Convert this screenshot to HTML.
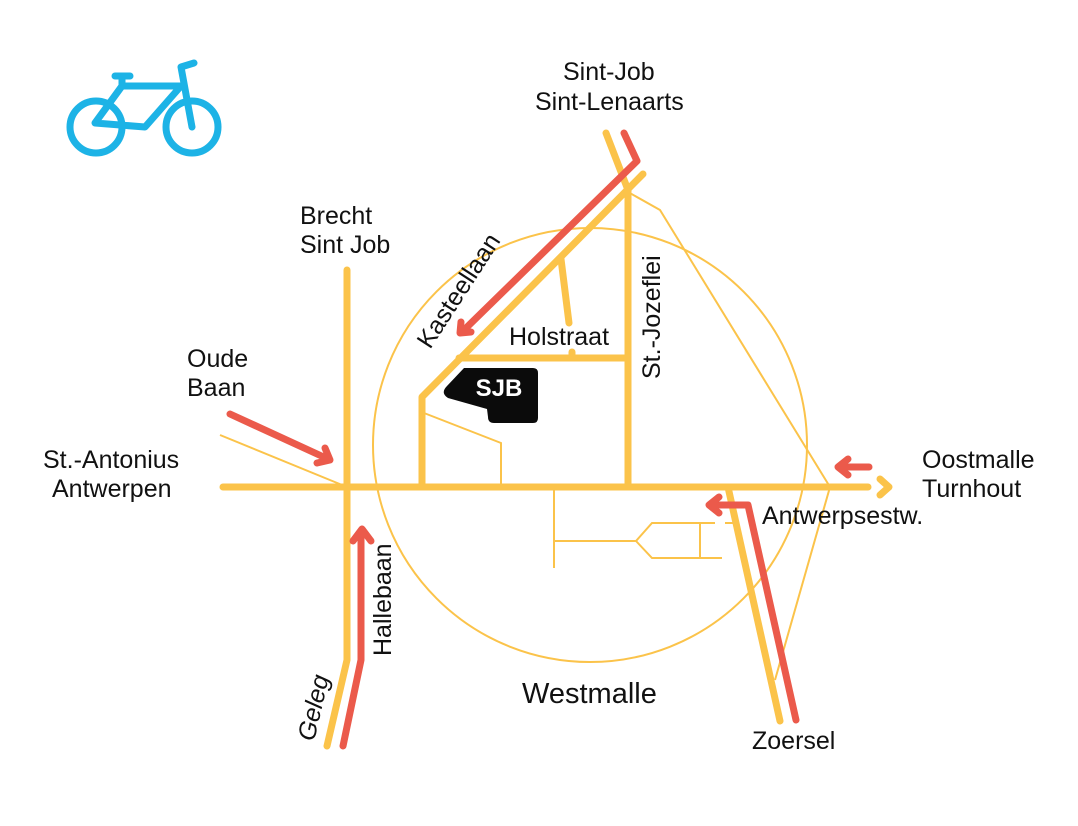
<!DOCTYPE html>
<html><head><meta charset="utf-8"><style>
html,body{margin:0;padding:0;background:#fff;}
svg{display:block;}
text{font-family:"Liberation Sans",sans-serif;fill:#111;}
</style></head><body>
<svg width="1078" height="826" viewBox="0 0 1078 826">
<!-- bike -->
<g stroke="#1DB3E6" stroke-width="7" fill="none" stroke-linecap="round" stroke-linejoin="round">
<circle cx="96" cy="127" r="26"/>
<circle cx="192" cy="127" r="26"/>
<path d="M95 123 L122 86 L181 86 L145 127 Z"/>
<path d="M122 86 L122 77 M115 76 L130 76"/>
<path d="M192 127 L181 67 L194 63"/>
</g>
<!-- thin lines -->
<g stroke="#FBC34A" stroke-width="2" fill="none">
<circle cx="590" cy="445" r="217"/>
<path d="M220 435 L347 487"/>
<path d="M628 192 L660 210 L830 487 L775 680"/>
<path d="M424 413 L501 443 L501 487"/>
<path d="M554 487 L554 568 M554 541 L636 541 L652 523 L715 523 M636 541 L652 558 L722 558 M700 523 L700 558 M725 523 L733 523"/>
</g>
<!-- thick yellow roads -->
<g stroke="#FBC34A" stroke-width="7" fill="none" stroke-linecap="round" stroke-linejoin="round">
<path d="M223 487 L868 487"/>
<path d="M347 270 L347 660 L327 746"/>
<path d="M422 487 L422 397 L643 174"/>
<path d="M606 133 L628 190 L628 487"/>
<path d="M459 358 L628 358"/>
<path d="M572 352 L572 358"/>
<path d="M561 259 L569 323"/>
<path d="M728 487 L780 721"/>
<path d="M880 479 L889 487 L880 495"/>
</g>
<!-- red routes -->
<g stroke="#EB5A4B" stroke-width="7" fill="none" stroke-linecap="round" stroke-linejoin="round">
<path d="M624 133 L637 161 L465 329"/>
<path d="M461 322 L460 333 L471 332"/>
<path d="M230 414 L328 459"/>
<path d="M317 463 L330 460 L325 448"/>
<path d="M343 746 L361 660 L361 533"/>
<path d="M353 541 L362 529 L371 541"/>
<path d="M796 720 L748 505 L714 505"/>
<path d="M719 497 L709 505 L719 513"/>
<path d="M869 467 L842 467"/>
<path d="M848 459 L838 467 L848 475"/>
</g>
<!-- SJB -->
<path d="M464 368 L533 368 Q538 368 538 373 L538 418 Q538 423 533 423 L494 423 Q488 423 488 417 L487 409 L448 398 Q440 393 447 386 Z" fill="#0b0b0b"/>
<text x="499" y="396" font-size="24" font-weight="bold" text-anchor="middle" style="fill:#fff">SJB</text>
<!-- labels -->
<g font-size="25">
<text x="563" y="80">Sint-Job</text>
<text x="535" y="110">Sint-Lenaarts</text>
<text x="300" y="224">Brecht</text>
<text x="300" y="253">Sint Job</text>
<text x="187" y="367">Oude</text>
<text x="187" y="396">Baan</text>
<text x="43" y="468">St.-Antonius</text>
<text x="52" y="497">Antwerpen</text>
<text x="922" y="468">Oostmalle</text>
<text x="922" y="497">Turnhout</text>
<text x="762" y="524">Antwerpsestw.</text>
<text x="509" y="345">Holstraat</text>
<text x="752" y="749">Zoersel</text>
<text x="522" y="703" font-size="29">Westmalle</text>
<text transform="translate(660,379) rotate(-90)">St.-Jozeflei</text>
<text transform="translate(430,350) rotate(-57)">Kasteellaan</text>
<text transform="translate(391,656) rotate(-90)">Hallebaan</text>
<text transform="translate(314,742) rotate(-77)" font-style="italic">Geleg</text>
</g>
</svg>
</body></html>
